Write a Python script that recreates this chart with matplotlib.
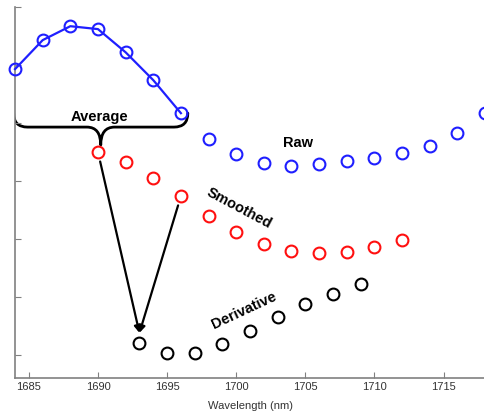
import matplotlib
matplotlib.use("Agg")
import matplotlib.pyplot as plt
from matplotlib.path import Path
from matplotlib.patches import PathPatch

plt.rcParams['font.family'] = ['Liberation Sans', 'DejaVu Sans']

# raw spectrum (first 7 points are the averaging window)
raw_wl = [1684, 1686, 1688, 1690, 1692, 1694, 1696, 1698, 1700, 1702,
          1704, 1706, 1708, 1710, 1712, 1714, 1716, 1718]
raw_val = [4.93, 5.43, 5.67, 5.62, 5.22, 4.74, 4.17, 3.72, 3.47, 3.31,
           3.26, 3.29, 3.34, 3.40, 3.48, 3.60, 3.83, 4.17]
window = 7

smooth_wl = [1690, 1692, 1694, 1696, 1698, 1700, 1702, 1704, 1706, 1708, 1710, 1712]
smooth_val = [3.50, 3.33, 3.05, 2.74, 2.40, 2.12, 1.91, 1.79, 1.76, 1.78, 1.86, 1.98]

deriv_wl = [1693, 1695, 1697, 1699, 1701, 1703, 1705, 1707, 1709]
deriv_val = [0.21, 0.04, 0.04, 0.19, 0.41, 0.66, 0.88, 1.05, 1.22]

xticks = [1685, 1690, 1695, 1700, 1705, 1710, 1715]

fig = plt.figure(figsize=(4.85, 4.16), dpi=100)
ax = fig.add_axes([0.031, 0.091, 0.969, 0.892])

mk = dict(marker='o', markersize=8.5, markerfacecolor='none', markeredgewidth=1.5,
          clip_on=False, zorder=3)
ax.plot(raw_wl[:window], raw_val[:window], color='#1f1fff', lw=1.6, **mk)
ax.plot(raw_wl[window:], raw_val[window:], ls='none', markeredgecolor='#1f1fff', **mk)
ax.plot(smooth_wl, smooth_val, ls='none', markeredgecolor='#ff1010', **mk)
ax.plot(deriv_wl, deriv_val, ls='none', markeredgecolor='black', **mk)

# curly brace under the averaging window
x0, x1 = raw_wl[0] - 0.1, raw_wl[window - 1] + 0.5
xm = (x0 + x1) / 2
ytop, yh, ytip = 4.17, 3.93, 3.62
r = 1.0
verts = [(x0, ytop), (x0, yh), (x0 + r, yh),
         (xm - r, yh), (xm, yh), (xm, ytip),
         (xm, yh), (xm + r, yh),
         (x1 - r, yh), (x1, yh), (x1, ytop)]
codes = [Path.MOVETO, Path.CURVE3, Path.CURVE3,
         Path.LINETO, Path.CURVE3, Path.CURVE3,
         Path.CURVE3, Path.CURVE3,
         Path.LINETO, Path.CURVE3, Path.CURVE3]
ax.add_patch(PathPatch(Path(verts, codes), fill=False, lw=2.0, color='black',
                       capstyle='round', joinstyle='round'))
ax.text(xm - 0.1, 4.10, 'Average', ha='center', va='center', fontsize=10.5,
        fontweight='bold')

# arrows from the smoothed points converging just above the first derivative point
tip = (deriv_wl[0], deriv_val[0] + 0.17)
for src in [(smooth_wl[0], smooth_val[0]), (smooth_wl[3], smooth_val[3])]:
    ax.annotate('', xy=tip, xytext=src,
                arrowprops=dict(arrowstyle='-|>', color='black', lw=1.6,
                                mutation_scale=10, shrinkA=7, shrinkB=0))

ax.text(1704.5, 3.66, 'Raw', ha='center', va='center', fontsize=10.5, fontweight='bold')
ax.text(1700.2, 2.53, 'Smoothed', ha='center', va='center', fontsize=10.5,
        fontweight='bold', rotation=-28, rotation_mode='anchor')
ax.text(1700.6, 0.76, 'Derivative', ha='center', va='center', fontsize=10.5,
        fontweight='bold', rotation=25, rotation_mode='anchor')

ax.set_xlim(1684, 1718)
ax.set_ylim(-0.4, 6.0)
ax.set_xticks(xticks)
ax.set_yticks([0, 1, 2, 3, 4, 5, 6])
ax.set_yticklabels([])
ax.tick_params(direction='in', length=4, color='#808080', labelcolor='#333333',
               labelsize=8, pad=3)
for s in ['top', 'right']:
    ax.spines[s].set_visible(False)
for s in ['left', 'bottom']:
    ax.spines[s].set_color('#808080')
    ax.spines[s].set_linewidth(1.2)
ax.set_xlabel('Wavelength (nm)', fontsize=8, color='#333333', labelpad=6)

fig.savefig('out.png', dpi=100)
